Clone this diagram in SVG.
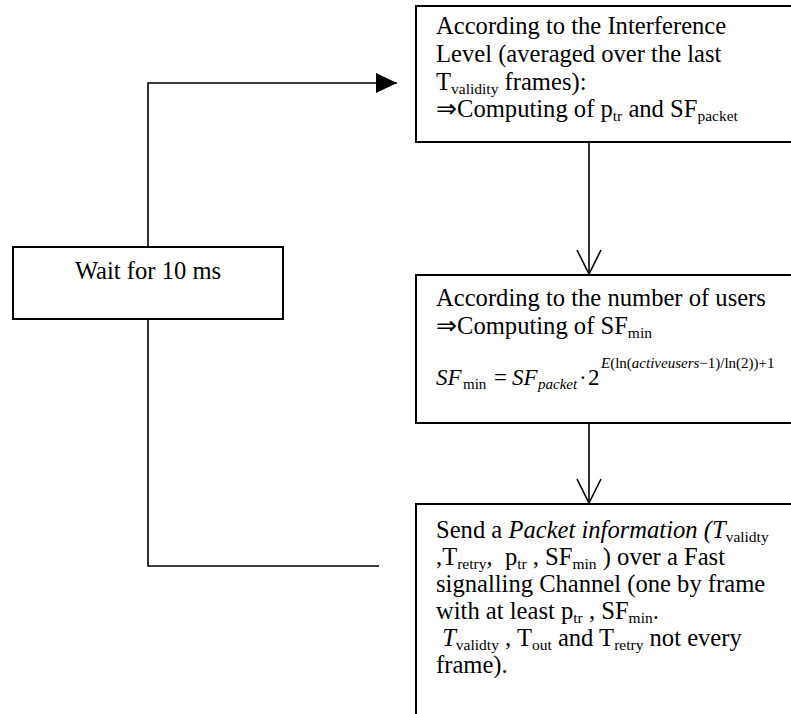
<svg xmlns="http://www.w3.org/2000/svg" width="791" height="714" viewBox="0 0 791 714">
<style>
.box{fill:#fff;stroke:#000;stroke-width:2}
.ln{fill:none;stroke:#000;stroke-width:1.6}
.t{font-family:"Liberation Serif","Times New Roman",serif;font-size:24.6px;fill:#000;white-space:pre}
.s{font-size:15.5px}
.f{font-family:"Liberation Serif","Times New Roman",serif;fill:#000;white-space:pre}
.i{font-style:italic}
</style>
<defs>
<marker id="fill" viewBox="-1 -11 23 22" refX="21" refY="0" markerWidth="23" markerHeight="22" markerUnits="userSpaceOnUse" orient="auto">
<path d="M0,-10 L21,0 L0,10 Z" fill="#000"/>
</marker>
<marker id="open" viewBox="-1 -13 27 26" refX="24" refY="0" markerWidth="27" markerHeight="26" markerUnits="userSpaceOnUse" orient="auto">
<path d="M0,-12 L24,0 L0,12" fill="none" stroke="#000" stroke-width="1.6"/>
</marker>
</defs>
<g id="connectors">
<path class="ln" d="M148,247 V83 H397" marker-end="url(#fill)"/>
<path class="ln" d="M148,319 V566 H379"/>
<path class="ln" d="M589,142 V274" marker-end="url(#open)"/>
<path class="ln" d="M589,423 V503" marker-end="url(#open)"/>
</g>
<g id="node-wait">
<rect class="box" x="13" y="247" width="270" height="72"/>
<text class="t" x="148" y="279" text-anchor="middle">Wait for 10 ms</text>
</g>
<g id="node-interference">
<rect class="box" x="416" y="6" width="390" height="136"/>
<text class="t" x="436" y="34">According to the Interference</text>
<text class="t" x="436" y="62">Level (averaged over the last</text>
<text class="t" x="436" y="90">T<tspan class="s" dy="4">validity</tspan><tspan dy="-4"> frames):</tspan></text>
<text class="t" x="436" y="117">⇒Computing of p<tspan class="s" dy="4">tr</tspan><tspan dy="-4"> and SF</tspan><tspan class="s" dy="4">packet</tspan></text>
</g>
<g id="node-users">
<rect class="box" x="416" y="275" width="390" height="148"/>
<text class="t" x="436" y="306">According to the number of users</text>
<text class="t" x="436" y="334">⇒Computing of SF<tspan class="s" dy="4">min</tspan></text>
<text class="f" y="385"><tspan class="i" x="436" font-size="23">SF</tspan><tspan x="463" dy="4" font-size="15">min</tspan><tspan x="494" dy="-4" font-size="23">=</tspan><tspan class="i" x="512" font-size="23">SF</tspan><tspan class="i" x="538" dy="4" font-size="15">packet</tspan><tspan x="579" dy="-4" font-size="23">·</tspan><tspan x="588" font-size="23">2</tspan><tspan x="601" dy="-17" font-size="15"><tspan class="i">E</tspan>(ln(<tspan class="i">activeusers</tspan>−1)/ln(2))+1</tspan></text>
</g>
<g id="node-send">
<rect class="box" x="416" y="504" width="390" height="230"/>
<text class="t" x="436" y="538">Send a <tspan class="i">Packet information (T</tspan><tspan class="s" dy="4">validty</tspan></text>
<text class="t" x="436" y="565">,T<tspan class="s" dy="4">retry</tspan><tspan dy="-4">,  p</tspan><tspan class="s" dy="4">tr</tspan><tspan dy="-4"> , SF</tspan><tspan class="s" dy="4">min</tspan><tspan dy="-4"> ) over a Fast</tspan></text>
<text class="t" x="436" y="592">signalling Channel (one by frame</text>
<text class="t" x="436" y="619">with at least p<tspan class="s" dy="4">tr</tspan><tspan dy="-4"> , SF</tspan><tspan class="s" dy="4">min</tspan><tspan dy="-4">.</tspan></text>
<text class="t" x="436" y="646"> <tspan class="i">T</tspan><tspan class="s" dy="4">validty</tspan><tspan dy="-4"> , T</tspan><tspan class="s" dy="4">out</tspan><tspan dy="-4"> and T</tspan><tspan class="s" dy="4">retry</tspan><tspan dy="-4"> not every</tspan></text>
<text class="t" x="436" y="673">frame).</text>
</g>
</svg>
